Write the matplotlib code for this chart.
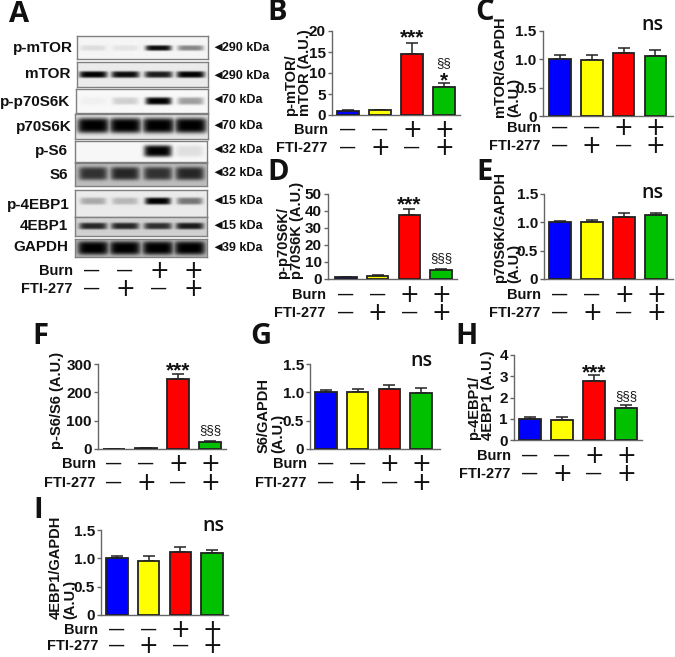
import numpy as np
import matplotlib
matplotlib.use("Agg")
import matplotlib.pyplot as plt

W, H = 675, 657
plt.rcParams['font.family'] = ['Liberation Sans', 'DejaVu Sans']
plt.rcParams['font.weight'] = 'bold'

# ---------- data ----------
colors = ['#0000FF', '#FFFF00', '#FF0000', '#00C000']
burn_signs = ['—', '—', '+', '+']
fti_signs = ['—', '+', '—', '+']

b_vals = [1.0, 1.1, 14.5, 6.7];      b_errs = [0.15, 0.2, 2.7, 0.9]
c_vals = [1.0, 0.99, 1.11, 1.06];    c_errs = [0.08, 0.08, 0.09, 0.11]
d_vals = [1.0, 2.0, 37.5, 5.3];      d_errs = [0.3, 0.3, 3.5, 0.8]
e_vals = [1.0, 1.01, 1.09, 1.13];    e_errs = [0.02, 0.03, 0.07, 0.04]
f_vals = [1.0, 3.0, 247, 26];        f_errs = [0.5, 1.0, 17, 4]
g_vals = [1.0, 1.0, 1.06, 0.98];     g_errs = [0.05, 0.06, 0.07, 0.09]
h_vals = [1.0, 0.95, 2.77, 1.5];     h_errs = [0.1, 0.12, 0.27, 0.15]
i_vals = [1.0, 0.95, 1.11, 1.1];     i_errs = [0.05, 0.1, 0.09, 0.05]

ratio_ticks = [0, 0.5, 1.0, 1.5]
ratio_labels = ['0', '0.5', '1.0', '1.5']

blot_names = ['p-mTOR', 'mTOR', 'p-p70S6K', 'p70S6K', 'p-S6', 'S6', 'p-4EBP1', '4EBP1', 'GAPDH']
blot_kda = ['290 kDa', '290 kDa', '70 kDa', '70 kDa', '32 kDa', '32 kDa', '15 kDa', '15 kDa', '39 kDa']
blot_levels = [
    [0.10, 0.07, 0.95, 0.45],
    [1.00, 0.95, 0.88, 1.00],
    [0.03, 0.16, 1.00, 0.36],
    [1.00, 1.00, 1.00, 1.00],
    [0.00, 0.00, 1.00, 0.10],
    [0.74, 0.80, 0.74, 0.80],
    [0.28, 0.22, 1.00, 0.50],
    [0.82, 0.82, 0.78, 0.88],
    [1.00, 1.00, 1.00, 1.00],
]
blot_backgrounds = [0.96, 0.92, 0.97, 0.90, 0.97, 0.74, 0.92, 0.82, 0.74]

# ---------- layout helpers ----------
fig = plt.figure(figsize=(W / 100, H / 100), dpi=100, facecolor='white')


def T(x, y, s, **kw):
    kw.setdefault('color', '#111111')
    return fig.text(x / W, 1 - y / H, s, **kw)


def box(x0, y0, x1, y1):
    return fig.add_axes([x0 / W, 1 - y1 / H, (x1 - x0) / W, (y1 - y0) / H])


def signs(centers, y_burn, y_fti, xr_burn, xr_fti):
    T(xr_burn, y_burn, 'Burn', ha='right', va='center', fontsize=10.5)
    T(xr_fti, y_fti, 'FTI-277', ha='right', va='center', fontsize=10.5)
    for c, b, f in zip(centers, burn_signs, fti_signs):
        for y, s in ((y_burn, b), (y_fti, f)):
            if s == '+':
                T(c, y, s, ha='center', va='center', fontsize=17, fontweight='normal', family='DejaVu Sans')
            else:
                T(c, y, s, ha='center', va='center', fontsize=11)


def panel(box_px, c0, spacing, vals, errs, ylim, ticks, ticklabels, rows, ylabel):
    x0, y0, x1, y1 = box_px
    ax = box(x0, y0, x1, y1)
    xs = np.arange(4)
    ax.bar(xs, vals, width=0.68, color=colors, edgecolor='#222222', linewidth=1.3, zorder=3)
    ax.errorbar(xs, vals, yerr=[[0] * 4, errs], fmt='none', ecolor='#222222',
                elinewidth=1.1, capsize=4.2, capthick=1.1, zorder=2)
    ax.set_xlim((x0 - c0) / spacing, (x1 - c0) / spacing)
    ax.set_ylim(*ylim)
    ax.set_xticks([])
    ax.set_yticks(ticks)
    ax.set_yticklabels(ticklabels, fontsize=11)
    ax.tick_params(axis='y', length=3, width=1, color='#666666', pad=1.5, labelcolor='#111111')
    for s in ('top', 'right'):
        ax.spines[s].set_visible(False)
    for s in ('left', 'bottom'):
        ax.spines[s].set_color('#666666')
        ax.spines[s].set_linewidth(1.0)
    centers = [c0 + spacing * i for i in range(4)]
    signs(centers, *rows)
    text, lx, ly = ylabel
    T(lx, ly, text, rotation=90, ha='center', va='bottom', multialignment='left',
      fontsize=10.5, linespacing=1.0)
    return centers


def stars(x, y):
    T(x, y, '***', ha='center', va='center', fontsize=15)


def section(x, y, s):
    T(x, y, s, ha='center', va='center', fontsize=9.5, fontweight='normal')


def ns(x, y):
    T(x, y, 'ns', ha='center', va='center', fontsize=14, family='Open Sans', fontweight='semibold')


def letter(x, y, s):
    T(x, y, s, ha='left', va='center', fontsize=21, family='Open Sans', fontweight='bold')


# ---------- bar panels ----------
panel((332, 31, 460, 115), 348, 32, b_vals, b_errs, (0, 20), [0, 5, 10, 15, 20],
      ['0', '5', '10', '15', '20'], (130, 148, 328, 327), ('p-mTOR/\nmTOR (A.U.)', 298, 116))
stars(412, 38); section(444, 63, '§§'); T(444, 81, '*', ha='center', va='center', fontsize=15)

panel((543, 31, 673, 116), 560, 31.8, c_vals, c_errs, (0, 1.5), ratio_ticks, ratio_labels,
      (128, 146, 541, 540), ('mTOR/GAPDH\n(A.U.)', 507, 117))
ns(652, 25)

panel((328, 194, 457, 279), 346, 31.7, d_vals, d_errs, (0, 50), [0, 10, 20, 30, 40, 50],
      ['0', '10', '20', '30', '40', '50'], (295, 313, 326, 325), ('p-p70S6K/\np70S6K (A.U.)', 290, 279))
stars(409, 205); section(441, 258, '§§§')

panel((544, 194, 673, 279), 560, 32, e_vals, e_errs, (0, 1.5), ratio_ticks, ratio_labels,
      (295, 313, 541, 540), ('p70S6K/GAPDH\n(A.U.)', 507, 283))
ns(652, 193)

panel((98, 364, 226, 449), 114, 32, f_vals, f_errs, (0, 300), [0, 100, 200, 300],
      ['0', '100', '200', '300'], (464, 483, 96, 95), ('p-S6/S6 (A.U.)', 57, 449))
stars(178, 371); section(210, 430, '§§§')

panel((310, 364, 440, 449), 326, 31.7, g_vals, g_errs, (0, 1.5), ratio_ticks, ratio_labels,
      (464, 483, 307, 306), ('S6/GAPDH\n(A.U.)', 271, 453))
ns(421, 361)

panel((514, 355, 642, 440), 530, 32, h_vals, h_errs, (0, 4), [0, 1, 2, 3, 4],
      ['0', '1', '2', '3', '4'], (456, 474, 511, 510), ('p-4EBP1/\n4EBP1 (A.U.)', 481, 440))
stars(594, 373); section(626, 396, '§§§')

panel((101, 530, 228, 615), 117, 31.7, i_vals, i_errs, (0, 1.5), ratio_ticks, ratio_labels,
      (630, 646, 98, 98), ('4EBP1/GAPDH\n(A.U.)', 63, 619))
ns(213, 526)

# ---------- western blots ----------
blot_boxes = [(77, 36, 208, 59), (77, 62, 208, 87), (76, 89, 208, 113), (75, 114, 208, 139),
              (75, 141, 207, 162), (75, 163, 207, 186), (75, 190, 207, 217), (75, 217, 207, 236),
              (75, 239, 207, 257)]
band_half_heights = [2.8, 3.2, 3.8, 7.5, 6.0, 6.5, 3.6, 3.4, 7.0]
band_half_widths = [13, 14, 13, 16, 14, 14.5, 13, 14, 15.5]
band_centers_y = [48, 75, 101, 126, 151, 174, 201, 226, 248]
lane_x = [93, 125, 158, 190]
name_right = [73, 71, 70, 72, 68, 68, 70, 68, 68]
name_y = [48, 74, 102, 127, 151, 175, 205, 226, 247]
kda_y = [48, 76, 100, 126, 150, 173, 201, 226, 248]

for k, bb in enumerate(blot_boxes):
    x0, y0, x1, y1 = bb
    ax = box(x0, y0, x1, y1)
    yy, xx = np.mgrid[y0:y1:(y1 - y0) * 2j, x0:x1:(x1 - x0) * 2j]
    dark = np.zeros_like(xx)
    for lane, lev in zip(lane_x, blot_levels[k]):
        prof = np.exp(-((xx - lane) / band_half_widths[k]) ** 6
                      - ((yy - band_centers_y[k]) / band_half_heights[k]) ** 4)
        dark = np.maximum(dark, lev * prof)
    img = blot_backgrounds[k] * (1 - dark)
    ax.imshow(img, cmap='gray', vmin=0, vmax=1, aspect='auto', interpolation='bilinear')
    ax.set_xticks([]); ax.set_yticks([])
    for s in ax.spines.values():
        s.set_color('#808080'); s.set_linewidth(1.0)
    T(name_right[k], name_y[k], blot_names[k], ha='right', va='center', fontsize=11)
    T(211, kda_y[k], '◄', ha='left', va='center', fontsize=9.5, fontweight='normal')
    T(222, kda_y[k], blot_kda[k], ha='left', va='center', fontsize=9)

signs([92, 125, 159, 193], 271, 289, 73, 72)

for x, y, s in [(9, 14, 'A'), (267, 13, 'B'), (475, 13, 'C'), (267, 173, 'D'), (476, 173, 'E'),
                (32, 337, 'F'), (250, 337, 'G'), (455, 337, 'H'), (33, 510, 'I')]:
    letter(x, y, s)

fig.savefig('out.png', dpi=100, facecolor='white')
